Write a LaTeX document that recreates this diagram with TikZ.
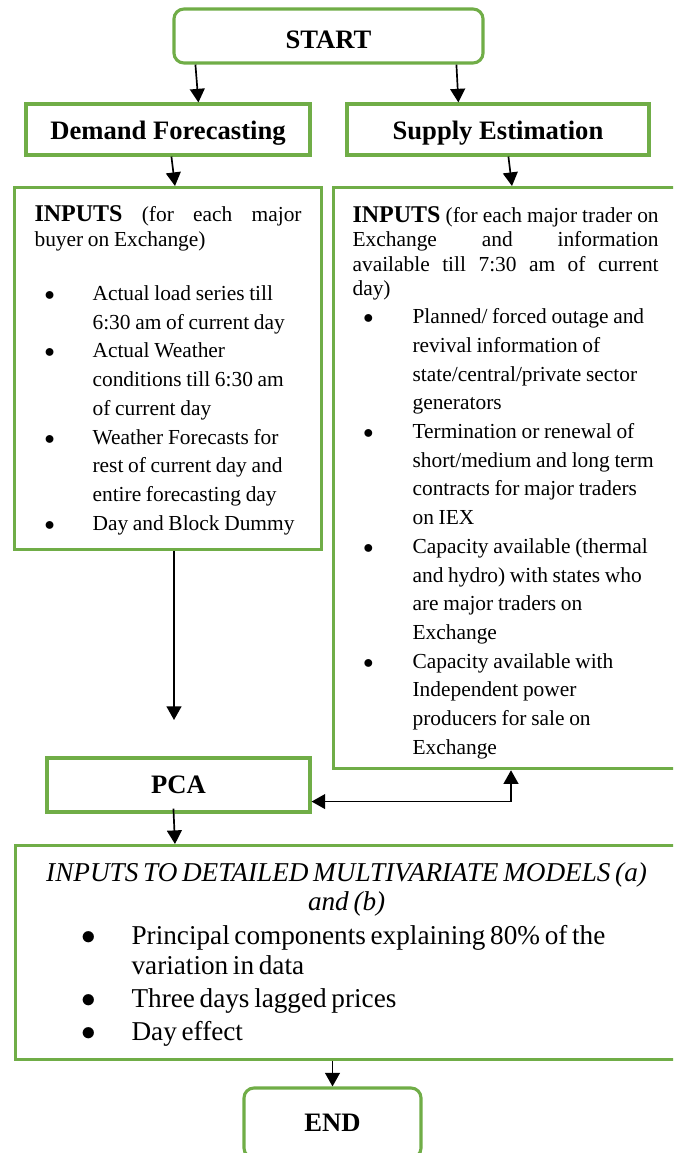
\documentclass[tikz,border=0pt]{standalone}
\usepackage{fontspec}
\setmainfont{Liberation Serif}
\usetikzlibrary{positioning,arrows.meta,calc}
\definecolor{FlowGreen}{RGB}{112,173,71}
\newlength{\bulgap}
\newlength{\bulpos}
\newlength{\itemgap}
\newcommand{\inpitem}[1]{\par\vspace{\itemgap}\hangindent=\bulgap\hangafter=1\noindent\makebox[\bulgap][l]{\hspace*{\bulpos}$\bullet$}#1}
\newcommand{\jline}[1]{\makebox[\linewidth][s]{\spaceskip=0pt\xspaceskip=0pt #1}}

\begin{document}
\begin{tikzpicture}[x=0.025cm, y=-0.025cm, every node/.style={align=center}]
\tikzset{
  greenbox/.style={draw=FlowGreen, line width=2.2pt, fill=white},
  termbox/.style={greenbox, rounded corners=0.25cm, font=\bfseries\fontsize{0.665cm}{0.75cm}\selectfont},
  headbox/.style={greenbox, font=\bfseries\fontsize{0.665cm}{0.75cm}\selectfont},
  inbox/.style={greenbox, anchor=north west, align=left, inner ysep=0pt},
  arr/.style={-{Triangle[length=0.34cm, width=0.37cm]}, line width=1.2pt},
  darr/.style={{Triangle[length=0.34cm, width=0.37cm]}-{Triangle[length=0.34cm, width=0.37cm]}, line width=1.2pt}
}
\path[use as bounding box, clip] (0,0) rectangle (673,1153);

  \node[termbox, minimum width=7.725cm, minimum height=1.35cm, text height=0.62cm] (start) at (328.5,36) {START};
  \node[headbox, minimum width=7.1cm, minimum height=1.275cm, text height=0.65cm, text depth=0.14cm] (demand) at (168,129.5) {Demand Forecasting};
  \node[headbox, minimum width=7.55cm, minimum height=1.275cm, text height=0.65cm, text depth=0.14cm] (supply) at (498,129.5) {Supply Estimation};

  \node[inbox, text width=6.675cm, inner xsep=0.5cm, text height=0.85cm, text depth=8.19cm] (demin) at (13,186) {%
    \fontsize{0.535cm}{0.625cm}\selectfont
    \jline{\textbf{\fontsize{0.6cm}{0.625cm}\selectfont INPUTS} (for each major}\par
    buyer on Exchange)\par
    \vspace{0.63cm}\setlength{\bulgap}{1.45cm}\setlength{\bulpos}{0.25cm}\setlength{\itemgap}{0pt}%
    \fontsize{0.535cm}{0.7175cm}\selectfont
    \inpitem{Actual load series till\newline 6:30 am of current day}
    \inpitem{Actual Weather\newline conditions till 6:30 am\newline of current day}
    \inpitem{Weather Forecasts for\newline rest of current day and\newline entire forecasting day}
    \inpitem{Day and Block Dummy}\par};

  \node[inbox, text width=7.65cm, inner xsep=0.475cm, text height=0.875cm, text depth=13.65cm] (supin) at (332,186) {%
    \fontsize{0.535cm}{0.61cm}\selectfont
    \jline{\textbf{\fontsize{0.6cm}{0.61cm}\selectfont INPUTS} (for each major trader on}\par
    \jline{Exchange and information}\par
    \jline{available till 7:30 am of current}\par
    day)\par
    \vspace{-0.02cm}\setlength{\bulgap}{1.5cm}\setlength{\bulpos}{0.27cm}\setlength{\itemgap}{0pt}%
    \fontsize{0.535cm}{0.7175cm}\selectfont
    \inpitem{Planned/ forced outage and\newline revival information of\newline state/central/private sector\newline generators}
    \inpitem{Termination or renewal of\newline short/medium and long term\newline contracts for major traders\newline on IEX}
    \inpitem{Capacity available (thermal\newline and hydro) with states who\newline are major traders on\newline Exchange}
    \inpitem{Capacity available with\newline Independent power\newline producers for sale on\newline Exchange}\par};

  \coordinate (demtip) at (174,720);
  \node[headbox, minimum width=6.575cm, minimum height=1.35cm] (pca) at (178.5,785) {PCA};

  \node[inbox, text width=15.45cm, inner xsep=0.55cm, text height=0.9cm, text depth=4.45cm] (mvin) at (14,844) {%
    \fontsize{0.68cm}{0.725cm}\selectfont
    {\centering\itshape INPUTS TO DETAILED MULTIVARIATE MODELS (a)\par and (b)\par}
    \vspace{0.04cm}\setlength{\bulgap}{2.35cm}\setlength{\bulpos}{1.1cm}\setlength{\itemgap}{0.07cm}%
    \fontsize{0.68cm}{0.75cm}\selectfont
    \inpitem{Principal components explaining 80\% of the\newline variation in data}
    \inpitem{Three days lagged prices}
    \inpitem{Day effect}\par};

  \node[termbox, minimum width=4.425cm, minimum height=1.75cm] (finish) at (332.5,1123) {END};

  \draw[arr] ($(start.south west)+(23,0)$) -- ($(demand.north west)+(174,0)$);
  \draw[arr] ($(start.south west)+(284,0)$) -- ($(supply.north west)+(113,0)$);
  \draw[arr] ($(demand.south west)+(147,0)$) -- ($(demin.north west)+(162,0)$);
  \draw[arr] ($(supply.south west)+(163,0)$) -- ($(supin.north west)+(180,0)$);
  \draw[arr] (demin.south -| demtip) -- (demtip);
  \draw[darr] ($(pca.south east)+(0,-12)$) -| ($(supin.south west)+(179,0)$);
  \draw[arr] ($(pca.south west)+(128,-5)$) -- ($(mvin.north west)+(161,0)$);
  \draw[arr] (finish.north |- mvin.south) -- (finish.north);
\end{tikzpicture}
\end{document}
